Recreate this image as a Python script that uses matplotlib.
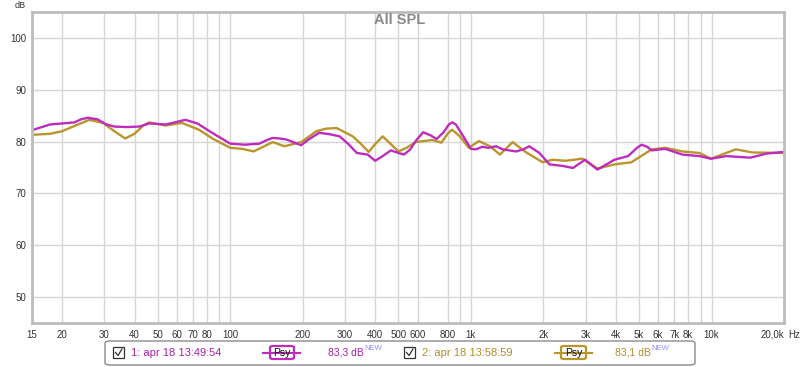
import matplotlib
matplotlib.use("Agg")
import matplotlib.pyplot as plt
from matplotlib.patches import FancyBboxPatch, Rectangle
from matplotlib.lines import Line2D

plt.rcParams['font.family'] = ['Liberation Sans', 'DejaVu Sans']

# ---- data ----
freq1 = [15, 17.8, 20, 22.5, 24, 25.6, 28, 30.6, 33, 37, 42, 46, 54, 60, 65, 73, 84, 100, 115, 132,
         142, 150, 160, 171, 185, 197, 210, 234, 260, 285, 310, 336, 372, 400, 430, 465, 500, 527,
         560, 589, 633, 680, 720, 770, 810, 835, 866, 930, 1000, 1050, 1115, 1180, 1272, 1354,
         1541, 1650, 1748, 1926, 2120, 2410, 2655, 2980, 3356, 3950, 4500, 4900, 5120, 5400, 5640,
         6420, 7560, 8900, 9950, 11500, 14500, 17000, 20000]
spl1 = [82.2, 83.3, 83.5, 83.7, 84.3, 84.6, 84.3, 83.3, 82.9, 82.8, 82.9, 83.5, 83.3, 83.8, 84.2,
        83.5, 81.7, 79.6, 79.4, 79.6, 80.3, 80.7, 80.6, 80.4, 79.8, 79.3, 80.3, 81.7, 81.4, 81.0,
        79.5, 77.8, 77.5, 76.3, 77.2, 78.3, 77.8, 77.5, 78.5, 80.1, 81.8, 81.2, 80.5, 81.8, 83.3,
        83.7, 83.3, 81.0, 78.6, 78.5, 79.0, 78.8, 79.1, 78.5, 78.1, 78.5, 79.1, 77.8, 75.6, 75.3,
        74.9, 76.5, 74.6, 76.5, 77.2, 78.8, 79.4, 79.0, 78.3, 78.6, 77.5, 77.2, 76.7, 77.2, 76.9,
        77.7, 78.0]

freq2 = [15, 17.8, 20, 23, 26, 29.6, 33, 36.6, 40, 43.5, 46, 54, 63, 74, 85, 100, 112, 125, 137,
         150, 168, 197, 228, 250, 277, 323, 350, 376, 400, 430, 465, 500, 540, 589, 690, 754, 800,
         835, 900, 980, 1080, 1200, 1320, 1490, 1700, 1990, 2180, 2480, 2900, 3356, 3950, 4640,
         5640, 6420, 7560, 8900, 9950, 12600, 14800, 20000]
spl2 = [81.3, 81.5, 82.0, 83.2, 84.2, 83.6, 82.0, 80.6, 81.5, 83.1, 83.7, 83.1, 83.6, 82.3, 80.5,
        78.8, 78.6, 78.1, 79.0, 79.9, 79.1, 79.9, 82.0, 82.5, 82.6, 81.0, 79.5, 78.0, 79.5, 81.0,
        79.5, 78.1, 78.8, 79.9, 80.3, 79.8, 81.5, 82.3, 81.0, 78.8, 80.1, 79.1, 77.5, 79.9, 77.9,
        76.0, 76.5, 76.3, 76.7, 74.8, 75.6, 76.0, 78.5, 78.8, 78.1, 77.8, 76.7, 78.5, 77.9, 77.8]

xticks = [15, 20, 30, 40, 50, 60, 70, 80, 100, 200, 300, 400, 500, 600, 800, 1000, 2000, 3000,
          4000, 5000, 6000, 7000, 8000, 10000, 20000]
xticklabels = ['15', '20', '30', '40', '50', '60', '70', '80', '100', '200', '300', '400', '500',
               '600', '800', '1k', '2k', '3k', '4k', '5k', '6k', '7k', '8k', '10k', '20,0k']
xminor = [90, 900, 9000]
yticks = [50, 60, 70, 80, 90, 100]

legend_names = ['1: apr 18 13:49:54', '2: apr 18 13:58:59']
legend_levels = ['83,3 dB', '83,1 dB']

PURPLE = '#BE2CBE'
GOLD = '#B8962C'
PURPLE_TXT = '#A522A5'
GOLD_TXT = '#B08F2A'

W, H = 800, 367
fig = plt.figure(figsize=(W / 100, H / 100), dpi=100)
ax = fig.add_axes([32 / W, 1 - 323 / H, (784 - 32) / W, (323 - 12) / H])

ax.set_xscale('log')
ax.set_xlim(15, 20000)
ax.set_ylim(45, 105)

ax.plot(freq2, spl2, color=GOLD, lw=1.7, solid_joinstyle='round')
ax.plot(freq1, spl1, color=PURPLE, lw=1.7, solid_joinstyle='round')

ax.set_xticks(xticks)
ax.set_xticklabels(xticklabels)
ax.set_xticks(xminor, minor=True)
ax.set_xticklabels([], minor=True)
ax.set_yticks(yticks)
ax.grid(True, which='both', color='#d6d6d6', lw=1)
ax.set_axisbelow(True)
ax.tick_params(which='both', length=0, labelsize=7, colors='#333333', pad=5)
ax.tick_params(axis='y', pad=4)
xl = ax.get_xticklabels()
xl[-1].set_horizontalalignment('right')
for s in ax.spines.values():
    s.set_color('#bdbdbd')
    s.set_linewidth(2)


def fx(x):
    return x / W


def fy(y):
    return 1 - y / H


fig.text(fx(400), fy(20), 'All SPL', ha='center', va='center',
         fontsize=10.5, fontweight='bold', color='#8a8a8a')
fig.text(fx(20), fy(5), 'dB', ha='center', va='center', fontsize=6.5, color='#333333')
fig.text(fx(788), fy(334.5), 'Hz', ha='left', va='center', fontsize=7, color='#333333')

# ---- legend box ----
box = FancyBboxPatch((fx(105), fy(365)), fx(695) - fx(105), fy(341) - fy(365),
                     boxstyle='round,pad=0,rounding_size=0.006', transform=fig.transFigure,
                     facecolor='white', edgecolor='#8c8c8c', lw=1)
fig.patches.append(box)

entries = [
    dict(cb=113, txt=131, line=(263, 300), pbox=(270, 294), lvl=328, col=PURPLE, tcol=PURPLE_TXT),
    dict(cb=404, txt=422, line=(555, 592), pbox=(561, 586), lvl=615, col=GOLD, tcol=GOLD_TXT),
]
yc = 352.5
for i, e in enumerate(entries):
    fig.patches.append(Rectangle((fx(e['cb']), fy(358)), fx(11), fy(347) - fy(358),
                                 transform=fig.transFigure, facecolor='white',
                                 edgecolor='#333333', lw=0.9))
    fig.lines.append(Line2D([fx(e['cb'] + 2.5), fx(e['cb'] + 5), fx(e['cb'] + 9)],
                            [fy(352.5), fy(355.5), fy(349)], transform=fig.transFigure,
                            color='#333333', lw=0.9))
    fig.text(fx(e['txt']), fy(yc), legend_names[i], ha='left', va='center', fontsize=8,
             color=e['tcol'])
    fig.lines.append(Line2D([fx(e['line'][0]), fx(e['line'][1])], [fy(yc), fy(yc)],
                            transform=fig.transFigure, color=e['col'], lw=1.5))
    pb = FancyBboxPatch((fx(e['pbox'][0]), fy(359)), fx(e['pbox'][1] - e['pbox'][0]),
                        fy(346) - fy(359), boxstyle='round,pad=0,rounding_size=0.004',
                        transform=fig.transFigure, facecolor='white', edgecolor=e['col'], lw=1.6)
    fig.patches.append(pb)
    fig.text(fx((e['pbox'][0] + e['pbox'][1]) / 2), fy(yc), 'Psy', ha='center', va='center',
             fontsize=7.5, color='#111111')
    fig.text(fx(e['lvl']), fy(yc), legend_levels[i], ha='left', va='center', fontsize=7.5,
             color=e['tcol'])
    fig.text(fx(e['lvl'] + 36), fy(348), 'NEW', ha='left', va='center', fontsize=5.5,
             color='#8f8fff')

fig.savefig('out.png', dpi=100, facecolor='white')
